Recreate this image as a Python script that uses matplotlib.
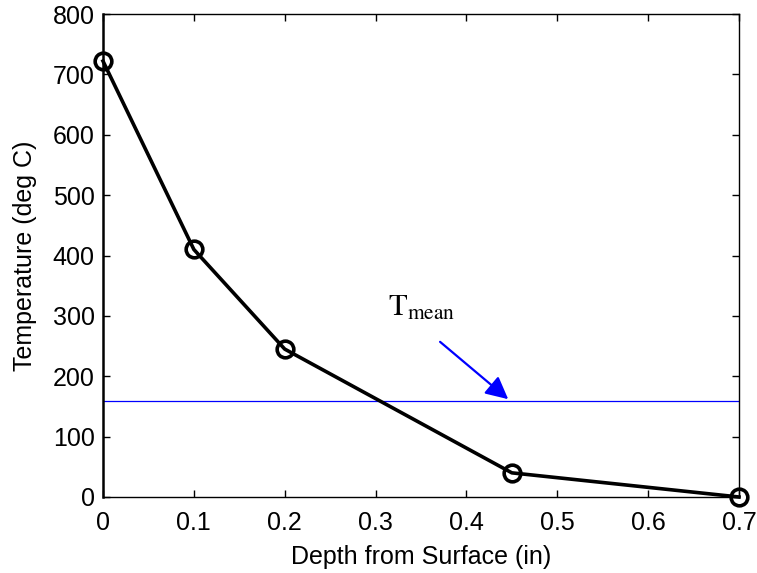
import matplotlib
matplotlib.use("Agg")
import matplotlib.pyplot as plt

# Temperature profile vs. depth
depth = [0.0, 0.1, 0.2, 0.45, 0.7]
temperature = [722, 410, 245, 40, 0]
t_mean = 159

x_ticks = [0, 0.1, 0.2, 0.3, 0.4, 0.5, 0.6, 0.7]
x_tick_labels = ["0", "0.1", "0.2", "0.3", "0.4", "0.5", "0.6", "0.7"]
y_ticks = [0, 100, 200, 300, 400, 500, 600, 700, 800]

plt.rcParams["font.family"] = ["Liberation Sans", "DejaVu Sans"]
plt.rcParams["mathtext.fontset"] = "stix"

fig = plt.figure(figsize=(7.57, 5.73), dpi=100)
ax = fig.add_axes([103 / 757, 1 - 497 / 573, 636 / 757, 483 / 573])

ax.plot(depth, temperature, color="black", lw=2.6, marker="o", ms=12,
        mfc="none", mec="black", mew=2.6, clip_on=False, zorder=3)
ax.axhline(t_mean, color="#0000ff", lw=0.9, zorder=2)

ax.annotate("", xy=(0.446, 162), xytext=(0.371, 257),
            arrowprops=dict(arrowstyle="-|>", color="#0000ff", lw=1.6,
                            mutation_scale=34, shrinkA=0, shrinkB=0))
ax.text(0.3137, 300, r"$\mathrm{T}_{\mathrm{mean}}$", fontsize=22,
        color="black", ha="left", va="baseline")

ax.set_xlim(0, 0.7)
ax.set_ylim(0, 800)
ax.set_xticks(x_ticks)
ax.set_xticklabels(x_tick_labels)
ax.set_yticks(y_ticks)

ax.tick_params(direction="in", length=5, width=1, top=True, right=True,
               labelsize=18, colors="black")
ax.tick_params(axis="x", pad=10)
ax.tick_params(axis="y", pad=6)

for side in ["top", "right", "bottom"]:
    ax.spines[side].set_linewidth(1.0)
ax.spines["left"].set_linewidth(1.8)

ax.set_xlabel("Depth from Surface (in)", fontsize=18, labelpad=7)
ax.set_ylabel("Temperature (deg C)", fontsize=18, labelpad=11)

fig.savefig("out.png", dpi=100, facecolor="white")
